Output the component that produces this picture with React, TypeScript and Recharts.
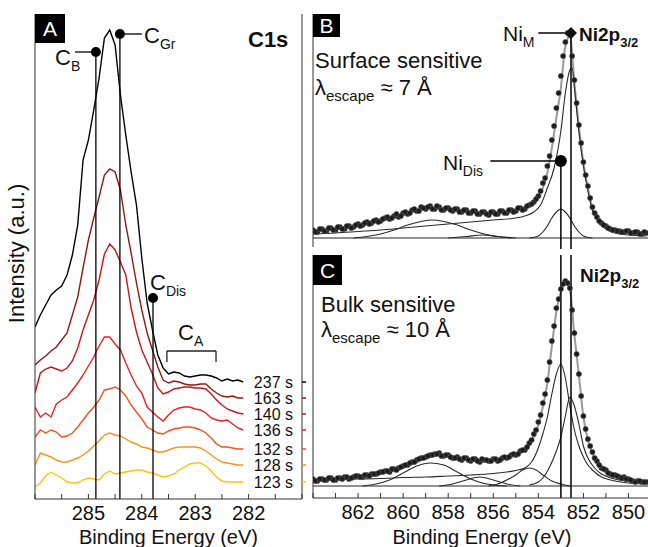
import React from 'react';
import { LineChart, Line, XAxis, YAxis, ReferenceLine, ReferenceDot } from 'recharts';

const FONT = '"Liberation Sans", Arial, Helvetica, sans-serif';
const INK = '#111111';
const FRAME = '#333333';

// ---------- panel A : C1s, binding energy (eV) ----------
const C1S_E = [
  286.0, 285.9, 285.8, 285.7, 285.6, 285.5, 285.4, 285.3, 285.2, 285.1,
  285.0, 284.9, 284.8, 284.7, 284.6, 284.5, 284.4, 284.3, 284.2, 284.1,
  284.0, 283.9, 283.8, 283.7, 283.6, 283.5, 283.4, 283.3, 283.2, 283.1,
  283.0, 282.9, 282.8, 282.7, 282.6, 282.5, 282.4, 282.3, 282.2, 282.1,
];
const C1S_237 = [172, 184, 194, 204, 209, 213, 224, 244, 274, 339, 359, 389, 421, 461, 469, 454, 404, 364, 327, 294, 241, 196, 169, 144, 131, 125, 127, 126, 123, 122, 123, 124, 124, 123, 121, 118, 120, 118, 119, 117];
const C1S_163 = [134, 139, 143, 148, 152, 159, 166, 184, 202, 231, 259, 281, 302, 324, 330, 327, 309, 274, 246, 216, 189, 166, 149, 132, 119, 116, 118, 117, 115, 114, 114, 115, 115, 110, 106, 103, 102, 103, 101, 101];
const C1S_140 = [106, 126, 130, 132, 130, 128, 131, 138, 151, 169, 184, 199, 219, 245, 255, 249, 237, 224, 191, 167, 149, 137, 125, 111, 105, 107, 110, 111, 112, 112, 111, 111, 110, 105, 99, 94, 90, 88, 86, 85];
const C1S_136 = [92, 82, 86, 82, 95, 99, 102, 109, 116, 124, 133, 142, 153, 162, 162, 155, 149, 136, 124, 113, 106, 92, 87, 82, 78, 84, 89, 91, 92, 92, 90, 89, 86, 81, 79, 78, 79, 75, 71, 69];
const C1S_132 = [62, 69, 66, 69, 67, 62, 63, 66, 72, 79, 86, 92, 99, 109, 110, 112, 109, 103, 94, 87, 80, 72, 69, 66, 65, 68, 70, 71, 72, 72, 71, 69, 66, 61, 55, 52, 52, 51, 50, 50];
const C1S_128 = [34, 46, 44, 42, 39, 37, 37, 39, 41, 44, 48, 53, 58, 64, 66, 64, 63, 60, 57, 55, 52, 51, 49, 47, 47, 49, 51, 52, 52, 52, 52, 51, 48, 44, 40, 37, 36, 35, 34, 34];
const C1S_123 = [12, 16, 23, 27, 24, 21, 17, 16, 16, 19, 21, 20, 19, 25, 28, 25, 26, 27, 28, 29, 29, 27, 26, 24, 22, 23, 25, 29, 32, 35, 36, 36, 33, 28, 22, 18, 17, 17, 17, 17];
const C1S_TIMES = ['237 s', '163 s', '140 s', '136 s', '132 s', '128 s', '123 s'];
const C1S_SERIES = [C1S_237, C1S_163, C1S_140, C1S_136, C1S_132, C1S_128, C1S_123];
const C1S_COLORS = ['#000000', '#8c1c13', '#c4161c', '#ee1c24', '#f4511e', '#f7941d', '#ffc20e'];
const C1S_TICKS = [286, 285.5, 285, 284.5, 284, 283.5, 283, 282.5, 282, 281.5, 281];

// C1s component energies (eV)
const E_CB = 284.86;
const E_CGR = 284.41;
const E_CDIS = 283.79;

// ---------- panels B, C : Ni2p3/2 ----------
const NI_E = [
  864.0, 863.8, 863.6, 863.4, 863.2, 863.0, 862.8, 862.6, 862.4, 862.2,
  862.0, 861.8, 861.6, 861.4, 861.2, 861.0, 860.8, 860.6, 860.4, 860.2,
  860.0, 859.8, 859.6, 859.4, 859.2, 859.0, 858.8, 858.6, 858.4, 858.2,
  858.0, 857.8, 857.6, 857.4, 857.2, 857.0, 856.8, 856.6, 856.4, 856.2,
  856.0, 855.8, 855.6, 855.4, 855.2, 855.0, 854.8, 854.6, 854.4, 854.2,
  854.0, 853.8, 853.6, 853.4, 853.2, 853.0, 852.8, 852.6, 852.4, 852.2,
  852.0, 851.8, 851.6, 851.4, 851.2, 851.0, 850.8, 850.6, 850.4, 850.2,
  850.0, 849.8, 849.6, 849.4, 849.2,
];
// second set of acquisition points, halfway between the ones above
const NI_E2 = [
  863.9, 863.7, 863.5, 863.3, 863.1, 862.9, 862.7, 862.5, 862.3, 862.1,
  861.9, 861.7, 861.5, 861.3, 861.1, 860.9, 860.7, 860.5, 860.3, 860.1,
  859.9, 859.7, 859.5, 859.3, 859.1, 858.9, 858.7, 858.5, 858.3, 858.1,
  857.9, 857.7, 857.5, 857.3, 857.1, 856.9, 856.7, 856.5, 856.3, 856.1,
  855.9, 855.7, 855.5, 855.3, 855.1, 854.9, 854.7, 854.5, 854.3, 854.1,
  853.9, 853.7, 853.5, 853.3, 853.1, 852.9, 852.7, 852.5, 852.3, 852.1,
  851.9, 851.7, 851.5, 851.3, 851.1, 850.9, 850.7, 850.5, 850.3, 850.1,
  849.9, 849.7, 849.5, 849.3,
];
const NI_TICKS = [864, 863, 862, 861, 860, 859, 858, 857, 856, 855, 854, 853, 852, 851, 850, 849];

// surface sensitive (B)
const B_DATA = [
  8, 6, 9, 7, 10, 8, 11, 9, 12, 11, 14, 13, 16, 15, 18, 17, 20, 19, 22, 21,
  25, 24, 28, 27, 31, 29, 32, 29, 31, 28, 30, 27, 29, 26, 28, 25, 27, 24, 26, 23,
  26, 24, 27, 25, 28, 27, 30, 29, 33, 36, 42, 55, 72, 98, 130, 162, 196, 203, 158, 113,
  76, 52, 31, 21, 15, 12, 9, 8, 7, 6, 7, 5, 6, 4, 5,
];
const B_DATA2 = [
  6, 9, 7, 10, 8, 11, 9, 12, 10, 13, 12, 15, 14, 17, 16, 19, 21, 20, 24, 22,
  26, 25, 29, 27, 30, 31, 29, 32, 28, 30, 28, 29, 26, 28, 25, 27, 24, 26, 24, 26,
  24, 27, 25, 28, 26, 30, 28, 32, 34, 39, 47, 60, 82, 112, 145, 182, 205, 182, 135, 95,
  63, 40, 25, 17, 13, 10, 8, 7, 6, 7, 5, 6, 4, 6,
];
const B_FIT = [
  7, 7.5, 8, 8.5, 9, 9.5, 10, 10.5, 11, 12, 13, 14, 15, 16, 17, 18, 19, 20.5, 22, 23,
  24, 25.5, 27, 28, 29, 29.5, 30, 30, 30, 29.5, 29, 28.5, 28, 27.5, 27, 26.5, 26, 25.5, 25, 25,
  25, 25.5, 26, 26.5, 27, 28, 29, 30.5, 32, 35, 40, 50, 65, 90, 120, 150, 192, 202, 155, 112,
  75, 50, 29, 20, 14, 11, 9, 7, 6.5, 6, 6, 5.5, 5, 5, 5,
];
const B_MAIN_E = [864, 863, 862, 861, 860, 859, 858, 857, 856, 855, 854.6, 854.2, 853.9, 853.6, 853.3, 853.0, 852.8, 852.6, 852.5, 852.4, 852.2, 852.0, 851.8, 851.6, 851.4, 851.2, 851.0, 850.6, 850.0, 849.2];
const B_MAIN = [4, 5, 6.5, 8, 10, 12, 14, 16, 18, 20, 22, 26, 33, 50, 70, 107, 145, 168, 170, 150, 106, 72, 47, 28, 19, 13, 9, 5, 3, 2];
const B_DIS_E = [854.4, 854.0, 853.8, 853.6, 853.4, 853.2, 853.0, 852.8, 852.6, 852.4, 852.2, 852.0, 851.6];
const B_DIS = [0, 2, 6, 12, 20, 26, 29, 26, 20, 12, 6, 2, 0];
const B_SAT_E = [862.2, 861.6, 861.0, 860.4, 859.8, 859.2, 858.7, 858.2, 857.6, 857.0, 856.4, 855.8, 855.2];
const B_SAT = [0, 1.5, 4, 8, 13, 16.5, 18, 16.5, 13, 8, 4, 1.5, 0];
const B_SMALL_E = [858.0, 857.2, 856.5, 855.8, 855.0];
const B_SMALL = [0, 1.5, 3, 1.5, 0];

// bulk sensitive (C)
const C_DATA = [
  7, 5, 7, 6, 8, 6, 8, 9, 7, 9, 10, 9, 11, 12, 12, 14, 15, 14, 17, 18,
  20, 21, 24, 26, 28, 29, 31, 32, 33, 30, 31, 28, 29, 26, 28, 25, 27, 24, 26, 25,
  27, 25, 28, 28, 31, 31, 35, 36, 43, 52, 64, 83, 106, 145, 178, 197, 205, 198, 153, 112,
  70, 47, 34, 25, 18, 16, 12, 11, 9, 9, 7, 5, 5, 4, 4,
];
const C_DATA2 = [
  5, 7, 6, 8, 6, 8, 7, 9, 8, 10, 9, 11, 10, 12, 13, 14, 15, 17, 16, 19,
  21, 23, 24, 27, 28, 30, 31, 32, 30, 31, 29, 28, 27, 28, 26, 27, 25, 27, 26, 25,
  27, 26, 29, 29, 32, 32, 36, 39, 46, 56, 71, 92, 124, 160, 187, 202, 203, 176, 132, 90,
  57, 40, 28, 21, 17, 13, 11, 10, 8, 7, 6, 4, 5, 4,
];
const C_FIT = [
  6, 6, 6.5, 6.5, 7, 7, 7.5, 8, 8, 8.5, 9, 9.5, 10, 11, 12, 13, 14, 15, 16, 17.5,
  19, 21, 23, 25, 27, 28.5, 30, 30.5, 31, 30.5, 30, 29, 28, 27.5, 27, 26.5, 26, 26, 26, 26,
  26, 26.5, 27.5, 29, 30.5, 32, 34, 37, 41, 49, 61, 79, 103, 140, 174, 194, 203, 196, 151, 111,
  69, 46, 33, 24, 18, 15, 12, 10, 9, 8, 6, 5, 4.5, 4, 3.5,
];
const C_DIS_E = [864, 863, 862, 861, 860, 859, 858, 857, 856, 855.4, 855, 854.6, 854.3, 854.0, 853.8, 853.6, 853.4, 853.2, 853.0, 852.8, 852.6, 852.4, 852.2, 852.0, 851.8, 851.6, 851.2, 850.8, 850.2, 849.2];
const C_DIS = [6, 6.5, 7, 7.5, 8.5, 9, 10, 11, 12.5, 14, 15.5, 18, 24, 38, 52, 69, 92, 112, 122, 108, 80, 56, 40, 29, 21, 16, 9, 6, 3.5, 2];
const C_MET_E = [854.4, 854.0, 853.8, 853.5, 853.2, 853.0, 852.8, 852.6, 852.4, 852.2, 852.0, 851.8, 851.5, 851.2, 850.9, 850.4, 849.8, 849.2];
const C_MET = [1, 4, 8, 19, 35, 49, 70, 89, 80, 62, 40, 28, 18, 12, 9, 6, 4, 3];
const C_P854_E = [856.2, 855.8, 855.4, 855.0, 854.7, 854.4, 854.1, 853.8, 853.4, 853.0, 852.6];
const C_P854 = [0, 2, 6, 11, 16, 18, 16, 11, 5, 2, 0];
const C_P856_E = [858.4, 857.8, 857.2, 856.6, 856.0, 855.4, 854.8];
const C_P856 = [0, 2, 6, 9, 6, 2, 0];
const C_SAT_E = [861.8, 861.2, 860.6, 860.0, 859.4, 858.8, 858.2, 857.6, 857.0, 856.4, 855.8, 855.4];
const C_SAT = [0, 2, 6, 13, 20, 23, 21, 14, 7, 2.5, 0.5, 0];

const NI_M = 852.55;
const NI_DIS = 853.0;

const pts = (xs: number[], ys: number[]) => xs.map((e, i) => ({ e, v: ys[i] }));
const C1S_END = C1S_SERIES.map((s) => s[s.length - 1]);

const tickFont = { fontSize: 20, fill: INK, fontFamily: FONT };
const fmtA = (v: number) => (Number.isInteger(v) && v !== 286 && v !== 281 ? String(v) : '');
const fmtNi = (v: number) => (v % 2 === 0 && v !== 864 ? String(v) : '');
const blank = () => '';
const dotStyle = { r: 2.6, fill: '#1c1c1c', stroke: '#555', strokeWidth: 0.6 };

function TimeTick(props: any) {
  const { x, y, payload } = props;
  const i = C1S_END.indexOf(payload.value);
  const ax = x - 4;
  return (
    <g>
      <line x1={ax} x2={ax + 4} y1={y} y2={y} stroke={C1S_COLORS[i]} strokeWidth={1.5} />
      <text x={ax - 9} y={y} dy="0.35em" textAnchor="end" fontSize={16} fill={INK} fontFamily={FONT}>
        {C1S_TIMES[i]}
      </text>
    </g>
  );
}

function Diamond(props: any) {
  const { cx, cy } = props;
  return <path d={`M${cx},${cy - 6} L${cx + 6},${cy} L${cx},${cy + 6} L${cx - 6},${cy} Z`} fill={INK} />;
}

function Lbl({ x, y, main, sub, size = 22, subSize = 14, bold = false, drop = 6 }: any) {
  return (
    <text x={x} y={y} fontSize={size} fontWeight={bold ? 700 : 400} fill={INK} fontFamily={FONT}>
      {main}
      <tspan fontSize={subSize} dy={drop}>{sub}</tspan>
    </text>
  );
}

function Lambda({ x, y, rest }: any) {
  return (
    <text x={x} y={y} fontSize={22} fill={INK} fontFamily={FONT}>
      λ<tspan fontSize={15} dy={6}>escape</tspan>
      <tspan dy={-6}>{` ≈ ${rest}`}</tspan>
    </text>
  );
}

function Box({ x, y, w, h, t }: any) {
  return (
    <g>
      <rect x={x} y={y} width={w} height={h} fill="#000" />
      <text x={x + w / 2} y={y + h / 2} dy="0.36em" textAnchor="middle" fontSize={21} fill="#fff" fontFamily={FONT}>{t}</text>
    </g>
  );
}

function NiPanel({ data, data2, fit, comps, height, margin, bottomH, domain, markers }: any) {
  return (
    <LineChart width={351} height={height} margin={margin}>
      <XAxis dataKey="e" type="number" domain={[849, 864]} reversed ticks={NI_TICKS} interval={0}
        allowDataOverflow tickSize={-5} tickMargin={12} height={bottomH} stroke={FRAME}
        tickFormatter={bottomH ? fmtNi : blank} tick={tickFont}
        label={bottomH ? { value: 'Binding Energy (eV)', position: 'insideBottom', offset: 3, fontSize: 20, fill: INK, fontFamily: FONT } : undefined} />
      <XAxis xAxisId="top" orientation="top" dataKey="e" type="number" domain={[849, 864]} reversed ticks={NI_TICKS}
        interval={0} allowDataOverflow tickSize={-5} height={0} stroke={FRAME} tickFormatter={blank} />
      <YAxis type="number" domain={domain} allowDataOverflow width={13} tick={false} stroke={FRAME} />
      <ReferenceLine y={0} stroke="#222" strokeWidth={1} />
      <Line data={pts(NI_E, data)} dataKey="v" stroke="none" isAnimationActive={false} dot={dotStyle} />
      <Line data={pts(NI_E2, data2)} dataKey="v" stroke="none" isAnimationActive={false} dot={dotStyle} />
      <Line data={pts(NI_E, fit)} dataKey="v" type="monotone" stroke="#9a9a9a" strokeWidth={2} dot={false} isAnimationActive={false} />
      {comps.map((c: any, i: number) => (
        <Line key={i} data={pts(c[0], c[1])} dataKey="v" type="monotone" stroke="#2a2a2a" strokeWidth={1.1} dot={false} isAnimationActive={false} />
      ))}
      {markers}
    </LineChart>
  );
}

export default function App() {
  return (
    <div style={{ position: 'absolute', left: 0, top: 0, width: 648, height: 547, overflow: 'hidden', background: '#fff', fontFamily: FONT }}>
      <div style={{ position: 'absolute', left: 0, top: 0 }}>
        <LineChart width={320} height={547} margin={{ top: 14, right: 0, bottom: 0, left: 0 }}>
          <XAxis dataKey="e" type="number" domain={[281, 286]} reversed ticks={C1S_TICKS} interval={0}
            allowDataOverflow tickSize={-5} tickMargin={12} height={48} stroke={FRAME}
            tickFormatter={fmtA} tick={tickFont}
            label={{ value: 'Binding Energy (eV)', position: 'insideBottom', offset: 3, fontSize: 20, fill: INK, fontFamily: FONT }} />
          <XAxis xAxisId="top" orientation="top" dataKey="e" type="number" domain={[281, 286]} reversed ticks={C1S_TICKS}
            interval={0} allowDataOverflow tickSize={-5} height={0} stroke={FRAME} tickFormatter={blank} />
          <YAxis type="number" domain={[0, 485]} allowDataOverflow width={35} tick={false} stroke={FRAME}
            label={{ value: 'Intensity (a.u.)', angle: -90, position: 'center', dx: -1, dy: -3, fontSize: 22, fill: INK, fontFamily: FONT }} />
          <YAxis yAxisId="r" orientation="right" type="number" domain={[0, 485]} allowDataOverflow width={18}
            ticks={C1S_END} interval={0} tickLine={false} tickSize={4} tickMargin={0} stroke={FRAME}
            tick={(p: any) => <TimeTick {...p} />} />
          {C1S_SERIES.map((s, i) => (
            <Line key={C1S_TIMES[i]} data={pts(C1S_E, s)} dataKey="v" type="linear" stroke={C1S_COLORS[i]}
              strokeWidth={1.4} dot={false} isAnimationActive={false} />
          ))}
          <ReferenceLine segment={[{ x: E_CB, y: 447 }, { x: E_CB, y: 0 }]} stroke="#000" strokeWidth={1.3} />
          <ReferenceLine segment={[{ x: E_CGR, y: 465 }, { x: E_CGR, y: 0 }]} stroke="#000" strokeWidth={1.3} />
          <ReferenceLine segment={[{ x: E_CDIS, y: 201 }, { x: E_CDIS, y: 0 }]} stroke="#000" strokeWidth={1.3} />
          <ReferenceLine segment={[{ x: 285.25, y: 447 }, { x: E_CB, y: 447 }]} stroke="#000" strokeWidth={1.3} />
          <ReferenceLine segment={[{ x: E_CGR, y: 465 }, { x: 284.0, y: 465 }]} stroke="#000" strokeWidth={1.3} />
          <ReferenceLine segment={[{ x: 283.53, y: 148 }, { x: 282.61, y: 148 }]} stroke="#222" strokeWidth={1.3} />
          <ReferenceLine segment={[{ x: 283.53, y: 148 }, { x: 283.53, y: 137 }]} stroke="#222" strokeWidth={1.3} />
          <ReferenceLine segment={[{ x: 282.61, y: 148 }, { x: 282.61, y: 137 }]} stroke="#222" strokeWidth={1.3} />
          <ReferenceDot x={E_CB} y={447} r={5} fill="#000" stroke="none" />
          <ReferenceDot x={E_CGR} y={465} r={5} fill="#000" stroke="none" />
          <ReferenceDot x={E_CDIS} y={201} r={5} fill="#000" stroke="none" />
        </LineChart>
      </div>

      <div style={{ position: 'absolute', left: 300, top: 0 }}>
        <NiPanel data={B_DATA} data2={B_DATA2} fit={B_FIT} height={249} margin={{ top: 14, right: 0, bottom: 2, left: 0 }} bottomH={0}
          domain={[-9, 224]}
          comps={[[B_MAIN_E, B_MAIN], [B_DIS_E, B_DIS], [B_SAT_E, B_SAT], [B_SMALL_E, B_SMALL]]}
          markers={[
            <ReferenceLine key="a" segment={[{ x: NI_M, y: 205 }, { x: NI_M, y: -17 }]} stroke="#000" strokeWidth={1.5} ifOverflow="visible" />,
            <ReferenceLine key="b" segment={[{ x: NI_DIS, y: 77 }, { x: NI_DIS, y: -17 }]} stroke="#000" strokeWidth={1.5} ifOverflow="visible" />,
            <ReferenceLine key="c" segment={[{ x: 854.0, y: 205 }, { x: NI_M, y: 205 }]} stroke="#000" strokeWidth={1.3} />,
            <ReferenceLine key="d" segment={[{ x: 856.13, y: 77 }, { x: NI_DIS, y: 77 }]} stroke="#000" strokeWidth={1.3} />,
            <ReferenceDot key="e" x={NI_M} y={205} r={6} shape={(p: any) => <Diamond {...p} />} />,
            <ReferenceDot key="f" x={NI_DIS} y={77} r={6} fill="#000" stroke="none" />,
          ]} />
      </div>

      <div style={{ position: 'absolute', left: 300, top: 254 }}>
        <NiPanel data={C_DATA} data2={C_DATA2} fit={C_FIT} height={293} margin={{ top: 1, right: 0, bottom: 0, left: 0 }} bottomH={49}
          domain={[-12, 231]}
          comps={[[C_DIS_E, C_DIS], [C_MET_E, C_MET], [C_P854_E, C_P854], [C_P856_E, C_P856], [C_SAT_E, C_SAT]]}
          markers={[
            <ReferenceLine key="a" x={NI_M} stroke="#000" strokeWidth={1.5} />,
            <ReferenceLine key="b" x={NI_DIS} stroke="#000" strokeWidth={1.5} />,
          ]} />
      </div>

      <svg width={648} height={547} style={{ position: 'absolute', left: 0, top: 0, pointerEvents: 'none' }}>
        <Box x={35} y={14} w={30} h={29} t="A" />
        <text x={248} y={47} fontSize={22} fontWeight={700} fill={INK} fontFamily={FONT}>C1s</text>
        <Lbl x={55} y={65} main="C" sub="B" />
        <Lbl x={144} y={43} main="C" sub="Gr" />
        <Lbl x={150} y={290} main="C" sub="Dis" />
        <Lbl x={178} y={340} main="C" sub="A" />

        <Box x={313} y={14} w={27} h={23} t="B" />
        <text x={315} y={68} fontSize={22} fill={INK} fontFamily={FONT}>Surface sensitive</text>
        <Lambda x={315} y={95} rest="7 Å" />
        <Lbl x={503} y={41} main="Ni" sub="M" size={21} />
        <Lbl x={579} y={41} main="Ni2p" sub="3/2" size={19} subSize={13} bold />
        <Lbl x={443} y={170} main="Ni" sub="Dis" size={21} />

        <Box x={313} y={255} w={29} h={30} t="C" />
        <Lbl x={580} y={282} main="Ni2p" sub="3/2" size={19} subSize={13} bold />
        <text x={321} y={312} fontSize={22} fill={INK} fontFamily={FONT}>Bulk sensitive</text>
        <Lambda x={321} y={337} rest="10 Å" />
      </svg>
    </div>
  );
}
